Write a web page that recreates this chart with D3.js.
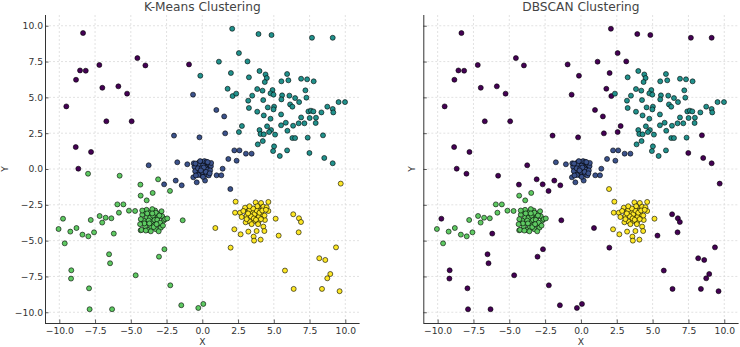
<!DOCTYPE html>
<html><head><meta charset="utf-8">
<script src="https://cdn.jsdelivr.net/npm/d3@7"></script>
<style>body{margin:0;background:#fff} svg{display:block;font-family:"DejaVu Sans",sans-serif}</style>
</head><body><svg id="c" width="740" height="347"></svg>
<script>
const palette = ["#440154", "#3b528b", "#21918c", "#5ec962", "#fde725"];
const xTicks = [-10, -7.5, -5, -2.5, 0, 2.5, 5, 7.5, 10];
const yTicks = [-10, -7.5, -5, -2.5, 0, 2.5, 5, 7.5, 10];
const titles = ["K-Means Clustering", "DBSCAN Clustering"];
const axisLabels = ["X", "Y"];

// Each group holds the points of one K-Means cluster: [x, y, DBSCAN colour index]
// (DBSCAN index 0 = noise, drawn with the first palette colour)
const kmeansCluster0 = [
  [-8.34,9.49,0],[-4.54,7.74,0],[-7.20,7.26,0],[-3.98,7.23,0],[-8.55,6.88,0],[-8.15,6.86,0],[-8.83,6.23,0],
  [-6.99,5.67,0],[-5.87,5.77,0],[-5.26,5.26,0],[-9.51,4.37,0],[-6.71,3.33,0],[-4.94,3.33,0],[-8.85,1.53,0],
  [-7.78,1.19,0],[-8.67,0.02,0],[-0.93,7.30,0]
];
const kmeansCluster1 = [
  [-0.65,5.19,0],[0.98,4.12,0],[1.53,3.67,0],[1.60,2.49,0],[-1.98,2.33,0],[-0.20,2.21,0],[-3.75,0.26,0],
  [-1.86,-0.81,0],[-1.44,-1.14,0],[-2.67,-1.07,0],
  [-1.75,0.47,1],[-1.05,0.33,1],[1.00,-0.44,1],[1.33,-0.44,1],[1.42,0.02,1],[1.82,0.70,1],[2.40,0.58,1],
  [2.24,1.30,1],[2.60,1.30,1],[3.05,1.07,1],[3.45,1.07,1],[-0.63,-0.58,1],[-0.39,-0.93,1],[0.19,-0.81,1],
  [1.96,-1.40,4],
  [0.05,0.02,1],[-0.15,0.10,1],[0.20,-0.10,1],[-0.30,-0.05,1],[0.35,0.15,1],[0.10,0.35,1],[-0.10,-0.30,1],
  [0.25,0.30,1],[-0.35,0.25,1],[0.40,-0.25,1],[-0.20,-0.20,1],[0.15,-0.35,1],[-0.45,0.00,1],[0.50,0.05,1],
  [0.00,0.50,1],[-0.05,-0.45,1],[0.30,-0.40,1],[-0.40,-0.30,1],[-0.25,0.45,1],[0.45,0.35,1],[0.60,0.20,1],
  [-0.55,0.15,1],[0.10,-0.15,1],[-0.10,0.20,1],[0.20,0.12,1],[-0.20,0.30,1],[0.35,-0.05,1],[-0.35,-0.15,1],
  [0.05,0.25,1],[0.00,-0.20,1],[0.55,-0.10,1],[-0.50,-0.15,1],[0.15,0.55,1],[-0.15,0.55,1],[0.30,0.50,1],
  [-0.30,0.05,1],[0.25,-0.20,1],[-0.05,0.05,1],[0.10,0.10,1],[-0.10,-0.10,1],[0.62,0.42,1],[-0.60,0.40,1],
  [0.45,-0.45,1],[-0.28,-0.42,1],[0.05,-0.55,1],[-0.48,0.38,1],[0.52,-0.30,1],[-0.45,-0.45,1],[0.38,0.48,1]
];
const kmeansCluster2 = [
  [2.09,9.79,0],[3.93,9.42,0],[4.84,9.35,0],[7.67,9.16,0],[9.12,9.16,0],[2.56,8.09,0],[1.16,7.49,0],
  [3.16,7.51,0],[-0.14,6.51,0],[2.00,6.70,0],[1.77,5.60,0],[2.12,5.09,0],[2.77,3.00,0],[2.56,2.58,0],
  [8.44,2.35,0],[7.49,1.12,0],[8.53,0.77,0],[9.12,0.40,0],
  [4.00,6.84,2],[4.42,6.60,2],[4.51,6.35,2],[4.37,6.07,2],[5.93,6.63,2],[3.26,6.40,2],[5.53,6.12,2],
  [6.02,6.19,2],[6.91,6.30,2],[7.33,6.26,2],[7.79,6.12,2],[3.84,5.58,2],[4.21,5.47,2],[4.91,5.51,2],
  [4.77,5.28,2],[3.49,5.12,2],[4.98,5.19,2],[5.58,5.14,2],[6.09,5.12,2],[7.21,5.49,2],[7.28,4.98,2],
  [6.49,4.95,2],[2.37,5.26,2],[3.21,4.77,2],[4.26,4.81,2],[5.53,4.86,2],[6.14,4.51,2],[6.30,4.35,2],
  [6.77,4.67,2],[5.02,4.35,2],[4.98,4.16,2],[4.58,4.30,2],[3.26,4.26,2],[9.53,4.67,2],[9.98,4.67,2],
  [8.74,4.35,2],[9.12,4.19,2],[9.16,3.95,2],[3.84,4.00,2],[4.30,3.74,2],[5.51,3.81,2],[4.77,3.51,2],
  [7.42,4.02,2],[7.60,4.07,2],[7.77,4.02,2],[8.33,3.95,2],[6.91,3.60,2],[7.51,3.56,2],[7.95,3.58,2],
  [7.93,3.21,2],[5.51,3.05,2],[5.84,3.23,2],[6.35,3.02,2],[6.74,3.19,2],[7.14,3.19,2],[4.53,2.98,2],
  [4.00,2.72,2],[4.81,2.72,2],[4.07,2.44,2],[4.30,2.42,2],[4.67,2.58,2],[5.09,2.40,2],[5.95,2.67,2],
  [6.30,2.16,2],[6.49,2.16,2],[7.37,2.19,2],[4.23,1.95,2],[3.88,1.72,2],[5.02,1.58,2],[4.95,1.25,2],
  [5.93,1.30,2],[5.42,0.91,2]
];
const kmeansCluster3 = [
  [-7.99,-0.33,0],[-5.78,-0.47,0],[-4.33,-1.09,0],[-3.09,-0.72,0],[-2.26,-1.53,0],[-9.74,-3.47,0],
  [-1.37,-3.58,0],[-6.19,-4.51,0],[-2.65,-5.60,0],[-3.03,-6.12,0],[-6.52,-5.95,0],[-6.45,-6.58,0],
  [-9.16,-7.07,0],[-9.18,-7.65,0],[-4.66,-7.42,0],[-2.24,-8.12,0],[-7.92,-8.33,0],[-7.88,-9.79,0],
  [-6.31,-9.79,0],[-1.47,-9.51,0],[-0.28,-9.70,0],[0.07,-9.42,0],
  [-4.31,-1.86,3],[-3.47,-1.67,3],[-3.89,-2.19,3],[-5.94,-2.47,3],[-5.52,-2.47,3],[-5.83,-3.05,3],
  [-5.13,-2.91,3],[-4.70,-2.93,3],[-7.18,-3.28,3],[-6.76,-3.40,3],[-6.36,-3.44,3],[-7.00,-3.74,3],
  [-7.80,-3.56,3],[-10.05,-4.19,3],[-9.23,-4.37,3],[-8.80,-4.12,3],[-8.38,-4.58,3],[-7.97,-4.70,3],
  [-7.57,-4.42,3],[-9.62,-5.19,3],[-4.31,-4.28,3],
  [-3.50,-3.50,3],[-3.30,-3.30,3],[-3.70,-3.20,3],[-3.20,-3.70,3],[-3.80,-3.80,3],[-3.40,-3.90,3],
  [-3.90,-3.40,3],[-3.10,-3.40,3],[-3.60,-3.00,3],[-3.00,-3.10,3],[-4.00,-3.00,3],[-4.10,-3.60,3],
  [-3.60,-4.10,3],[-3.00,-3.90,3],[-2.80,-3.30,3],[-2.70,-3.60,3],[-4.20,-3.20,3],[-3.30,-2.90,3],
  [-3.90,-2.85,3],[-3.50,-2.80,3],[-4.30,-3.50,3],[-3.25,-4.20,3],[-3.80,-4.25,3],[-2.90,-4.10,3],
  [-4.00,-4.00,3],[-3.55,-3.65,3],[-3.35,-3.55,3],[-3.65,-3.40,3],[-3.45,-3.25,3],[-3.15,-3.55,3],
  [-3.75,-3.60,3],[-3.25,-3.05,3],[-2.95,-3.75,3],[-4.05,-3.80,3],[-3.85,-3.10,3],[-2.60,-3.50,3],
  [-2.45,-3.45,3],[-4.35,-3.85,3],[-3.05,-4.35,3],[-3.60,-4.35,3],[-4.20,-2.90,3],[-2.85,-2.95,3],
  [-3.40,-4.05,3],[-3.70,-3.80,3],[-3.20,-3.85,3],[-4.25,-4.25,3],[-2.75,-3.95,3],[-3.95,-4.30,3],
  [-3.50,-3.10,3],[-3.00,-3.25,3]
];
const kmeansCluster4 = [
  [9.68,-1.02,0],[0.91,-4.12,0],[1.98,-5.49,0],[5.34,-4.65,0],[6.36,-3.16,0],[6.76,-3.44,0],[6.90,-3.70,0],
  [6.74,-4.42,0],[9.35,-5.47,0],[8.18,-6.23,0],[8.60,-6.35,0],[5.78,-7.09,0],[8.95,-7.33,0],[8.74,-7.63,0],
  [6.39,-8.37,0],[8.37,-8.37,0],[9.60,-8.53,0],
  [2.33,-2.28,4],[3.73,-2.33,4],[4.11,-2.37,4],[4.62,-2.30,4],[2.99,-2.70,4],[3.57,-2.79,4],[3.92,-2.70,4],
  [4.27,-2.63,4],[4.50,-2.67,4],[2.29,-3.05,4],[2.64,-3.05,4],[2.87,-2.93,4],[3.22,-2.98,4],[3.69,-2.98,4],
  [4.03,-2.93,4],[4.62,-2.93,4],[2.75,-3.35,4],[3.10,-3.26,4],[3.45,-3.21,4],[3.80,-3.26,4],[4.15,-3.16,4],
  [4.38,-3.56,4],[5.13,-3.47,4],[3.03,-3.72,4],[3.34,-3.67,4],[3.64,-3.63,4],[3.92,-3.72,4],[4.27,-4.02,4],
  [2.24,-4.21,4],[2.68,-4.56,4],[3.22,-4.37,4],[3.80,-4.33,4],[4.34,-4.33,4],[3.59,-4.72,4],[3.62,-5.00,4],
  [4.08,-4.93,4],
  [3.50,-3.00,4],[3.65,-3.15,4],[3.80,-2.90,4],[3.40,-3.30,4],[3.95,-3.35,4],[3.30,-2.85,4],[4.00,-3.05,4],
  [3.60,-3.45,4],[3.75,-3.55,4],[3.20,-3.10,4],[4.20,-2.90,4],[3.85,-2.60,4],[3.55,-2.75,4],[4.35,-3.25,4],
  [3.10,-3.50,4],[3.90,-3.85,4],[3.45,-3.85,4],[4.10,-3.50,4],[3.30,-2.60,4],[4.45,-2.85,4]
];

const groups = [kmeansCluster0, kmeansCluster1, kmeansCluster2, kmeansCluster3, kmeansCluster4];
const points = groups.flatMap((g, k) => g.map(p => ({x: p[0], y: p[1], km: k, db: p[2]})));

const svg = d3.select("#c");
const plotTop = 15, plotBottom = 323;
const panels = [
  {x0: 45, x1: 359.6, key: "km", title: titles[0], yLabels: true, yLabelX: 4.5},
  {x0: 423.3, x1: 738.6, key: "db", title: titles[1], yLabels: false, yLabelX: 412}
];
const fmt = d3.format(".1f");

panels.forEach(P => {
  const x = d3.scaleLinear().domain([-11, 11]).range([P.x0, P.x1]);
  const y = d3.scaleLinear().domain([-10.75, 10.75]).range([plotBottom, plotTop]);
  const g = svg.append("g");

  g.append("g").selectAll("line").data(xTicks).join("line")
    .attr("x1", d => x(d)).attr("x2", d => x(d)).attr("y1", plotTop).attr("y2", plotBottom)
    .attr("stroke", "#dadada").attr("stroke-width", 0.8).attr("stroke-dasharray", "2,2");
  g.append("g").selectAll("line").data(yTicks).join("line")
    .attr("y1", d => y(d)).attr("y2", d => y(d)).attr("x1", P.x0).attr("x2", P.x1)
    .attr("stroke", "#dadada").attr("stroke-width", 0.8).attr("stroke-dasharray", "2,2");

  g.append("g").selectAll("circle").data(points).join("circle")
    .attr("cx", d => x(d.x)).attr("cy", d => y(d.y)).attr("r", 2.5)
    .attr("fill", d => palette[d[P.key]])
    .attr("stroke", "#000").attr("stroke-width", 0.6);

  const xa = d3.axisBottom(x).tickValues(xTicks).tickFormat(fmt).tickSizeInner(-3.5).tickSizeOuter(0).tickPadding(4.6);
  const ya = d3.axisLeft(y).tickValues(yTicks).tickFormat(P.yLabels ? fmt : () => "").tickSizeInner(-3.5).tickSizeOuter(0).tickPadding(2);
  const gx = g.append("g").attr("transform", `translate(0,${plotBottom})`).call(xa);
  const gy = g.append("g").attr("transform", `translate(${P.x0},0)`).call(ya);
  [gx, gy].forEach(a => {
    a.select(".domain").attr("stroke", "#333").attr("stroke-width", 1);
    a.selectAll(".tick line").attr("stroke", "#333").attr("stroke-width", 0.8);
    a.selectAll(".tick text").attr("fill", "#333").style("font-size", "9.2px").style("font-family", "DejaVu Sans");
  });
  gx.select(".domain").attr("d", `M${P.x0},0.5H${P.x1}`);
  gy.select(".domain").attr("d", `M0.5,${plotTop}V${plotBottom}`);

  g.append("text").attr("x", (P.x0 + P.x1) / 2).attr("y", 11).attr("text-anchor", "middle")
    .attr("fill", "#444").style("font-size", "12.2px").text(P.title);
  g.append("text").attr("x", (P.x0 + P.x1) / 2).attr("y", 345).attr("text-anchor", "middle")
    .attr("fill", "#333").style("font-size", "9.2px").text(axisLabels[0]);
  g.append("text").attr("transform", `translate(${P.yLabelX + 3.3},${(plotTop + plotBottom) / 2}) rotate(-90)`)
    .attr("text-anchor", "middle").attr("fill", "#333").style("font-size", "9.2px").text(axisLabels[1]);
});
</script></body></html>
